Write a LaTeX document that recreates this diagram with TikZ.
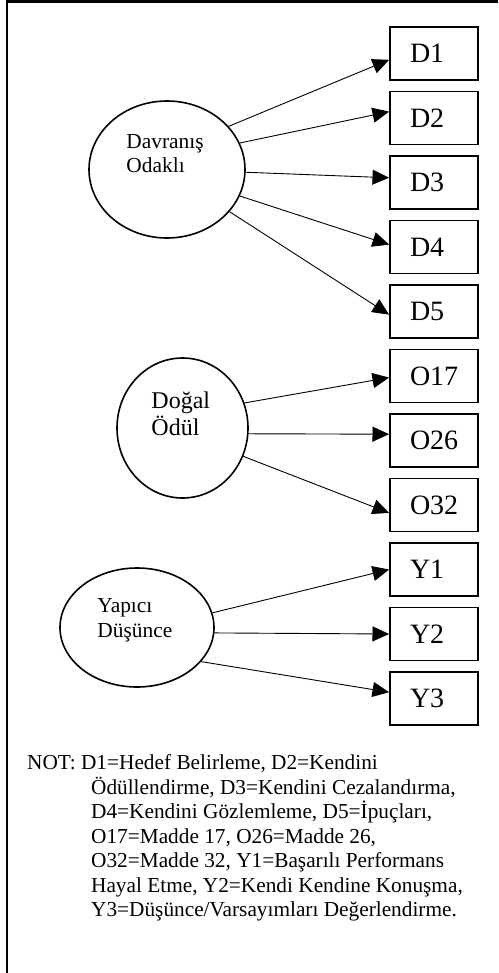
\documentclass[tikz,border=0pt]{standalone}
\usepackage{fontspec}
\setmainfont{Liberation Serif}
\usetikzlibrary{shapes.geometric,arrows.meta}
\begin{document}
\begin{tikzpicture}[x=0.5pt, y=-0.5pt, node distance={32.25pt}, line width=0.45pt, >={Triangle[length=8.3pt,width=7.5pt]},
  lat/.style = {draw, ellipse, line width=0.8pt, inner sep=0pt},
  obs/.style = {draw, rectangle, line width=0.9pt, minimum width=44pt, minimum height=26.5pt, text width=24pt, inner xsep=10pt, inner ysep=0pt, align=left, font=\fontsize{14}{16}\selectfont},
  txt/.style = {inner sep=0pt, anchor=north west, align=left}]
  \useasboundingbox (0,0) rectangle (498,973);
  \draw[line width=1.1pt] (498,1.5) -- (7,1.5) -- (7,973);
  \node[lat, minimum width=78pt, minimum height=68.5pt] (dav) at (167,169.5) {};
  \node[lat, minimum width=65.5pt, minimum height=70pt] (dog) at (182.5,428) {};
  \node[lat, minimum width=77pt, minimum height=59.5pt] (yap) at (137,627.5) {};
  \node[txt, font=\fontsize{10.7}{11.85}\selectfont] (davtxt) at (126,134) {Davranış\\Odaklı};
  \node[txt, font=\fontsize{12}{13.7}\selectfont] (dogtxt) at (151,391.2) {Doğal\\Ödül};
  \node[txt, font=\fontsize{10.7}{12.5}\selectfont] (yaptxt) at (97,598) {Yapıcı\\Düşünce};
  \node[obs] (d1) at (434,53.5) {D1};
  \node[obs] (d2) [below of=d1] {D2};
  \node[obs] (d3) [below of=d2] {D3};
  \node[obs] (d4) [below of=d3] {D4};
  \node[obs] (d5) [below of=d4] {D5};
  \node[obs] (o17) [below of=d5] {O17};
  \node[obs] (o26) [below of=o17] {O26};
  \node[obs] (o32) [below of=o26] {O32};
  \node[obs] (y1) [below of=o32] {Y1};
  \node[obs] (y2) [below of=y1] {Y2};
  \node[obs] (y3) [below of=y2] {Y3};
  \draw[->] (dav.35) -- (d1.188);
  \draw[->] (dav.20) -- (d2.172);
  \draw[->] (dav.-2) -- (d3.174);
  \draw[->] (dav.-20) -- (d4.177);
  \draw[->] (dav.-34) -- (d5.184);
  \draw[->] (dog.22) -- (o17.182);
  \draw[->] (dog.-5) -- (o26.172);
  \draw[->] (dog.-25) -- (o32.190);
  \draw[->] (yap.11) -- (y1.west);
  \draw[->] (yap.-4) -- (y2.west);
  \draw[->] (yap.-28) -- (y3.172);
  \node[txt, font=\fontsize{10.65}{12.25}\selectfont] (note) at (26.7,754.5) {NOT: D1=Hedef Belirleme, D2=Kendini\\
    \hspace*{32pt}Ödüllendirme, D3=Kendini Cezalandırma,\\
    \hspace*{32pt}D4=Kendini Gözlemleme, D5=İpuçları,\\
    \hspace*{32pt}O17=Madde 17, O26=Madde 26,\\
    \hspace*{32pt}O32=Madde 32, Y1=Başarılı Performans\\
    \hspace*{32pt}Hayal Etme, Y2=Kendi Kendine Konuşma,\\
    \hspace*{32pt}Y3=Düşünce/Varsayımları Değerlendirme.};
\end{tikzpicture}
\end{document}
